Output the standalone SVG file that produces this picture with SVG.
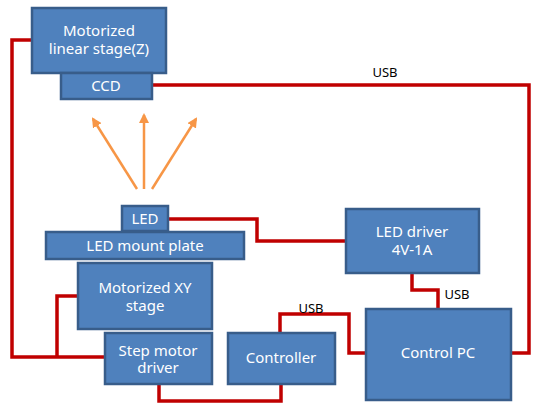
<svg xmlns="http://www.w3.org/2000/svg" width="536" height="407" viewBox="0 0 536 407">
<style>
.box{fill:#4F81BD;stroke:#385D8A;stroke-width:2.5}
.t{font-family:"Noto Sans","Open Sans",sans-serif;font-size:15px;fill:#fff;text-anchor:middle}
.u{font-family:"Noto Sans","Open Sans",sans-serif;font-size:13px;fill:#000;text-anchor:middle}
.w{fill:none;stroke:#C00000;stroke-width:3.5}
.a{fill:none;stroke:#F79646;stroke-width:2.5}
</style>
<defs>
<marker id="ah" viewBox="0 0 10 10" refX="8" refY="5" markerWidth="4" markerHeight="4" orient="auto" markerUnits="strokeWidth">
<path d="M0,0 L10,5 L0,10 z" fill="#F79646"/>
</marker>
</defs>
<rect width="536" height="407" fill="#fff"/>
<g id="connectors">
<path class="w" d="M32,40 H12 V357 H105"/>
<path class="w" d="M78,296 H57 V357"/>
<path class="w" d="M152,85 H529 V353 H511"/>
<path class="w" d="M168,219 H257 V241 H346"/>
<path class="w" d="M159,384 V401 H281 V384"/>
<path class="w" d="M280,333 V314 H349 V353 H366"/>
<path class="w" d="M412,273 V290 H438 V309"/>
<path class="a" d="M137,189 L93,119" marker-end="url(#ah)"/>
<path class="a" d="M144,189 L144,115" marker-end="url(#ah)"/>
<path class="a" d="M152,189 L196,119" marker-end="url(#ah)"/>
<text class="u" x="385" y="77">USB</text>
<text class="u" x="311" y="313">USB</text>
<text class="u" x="457" y="299">USB</text>
</g>
<g id="linear-stage">
<rect class="box" x="32" y="8" width="134" height="65"/>
<text class="t" x="99" y="36">Motorized</text>
<text class="t" x="99" y="54">linear stage(Z)</text>
</g>
<g id="ccd">
<rect class="box" x="61" y="73" width="91" height="26"/>
<text class="t" x="106" y="91">CCD</text>
</g>
<g id="led">
<rect class="box" x="122" y="206" width="46" height="25"/>
<text class="t" x="145" y="224">LED</text>
</g>
<g id="led-mount-plate">
<rect class="box" x="46" y="232" width="198" height="27"/>
<text class="t" x="145" y="251">LED mount plate</text>
</g>
<g id="xy-stage">
<rect class="box" x="78" y="263" width="134" height="66"/>
<text class="t" x="145" y="293">Motorized XY</text>
<text class="t" x="145" y="311">stage</text>
</g>
<g id="step-motor-driver">
<rect class="box" x="105" y="333" width="107" height="51"/>
<text class="t" x="158" y="356">Step motor</text>
<text class="t" x="158" y="373">driver</text>
</g>
<g id="controller">
<rect class="box" x="228" y="333" width="107" height="51"/>
<text class="t" x="281" y="363">Controller</text>
</g>
<g id="led-driver">
<rect class="box" x="346" y="209" width="133" height="64"/>
<text class="t" x="412" y="237">LED driver</text>
<text class="t" x="412" y="255">4V-1A</text>
</g>
<g id="control-pc">
<rect class="box" x="366" y="309" width="145" height="91"/>
<text class="t" x="438" y="358">Control PC</text>
</g>
</svg>
